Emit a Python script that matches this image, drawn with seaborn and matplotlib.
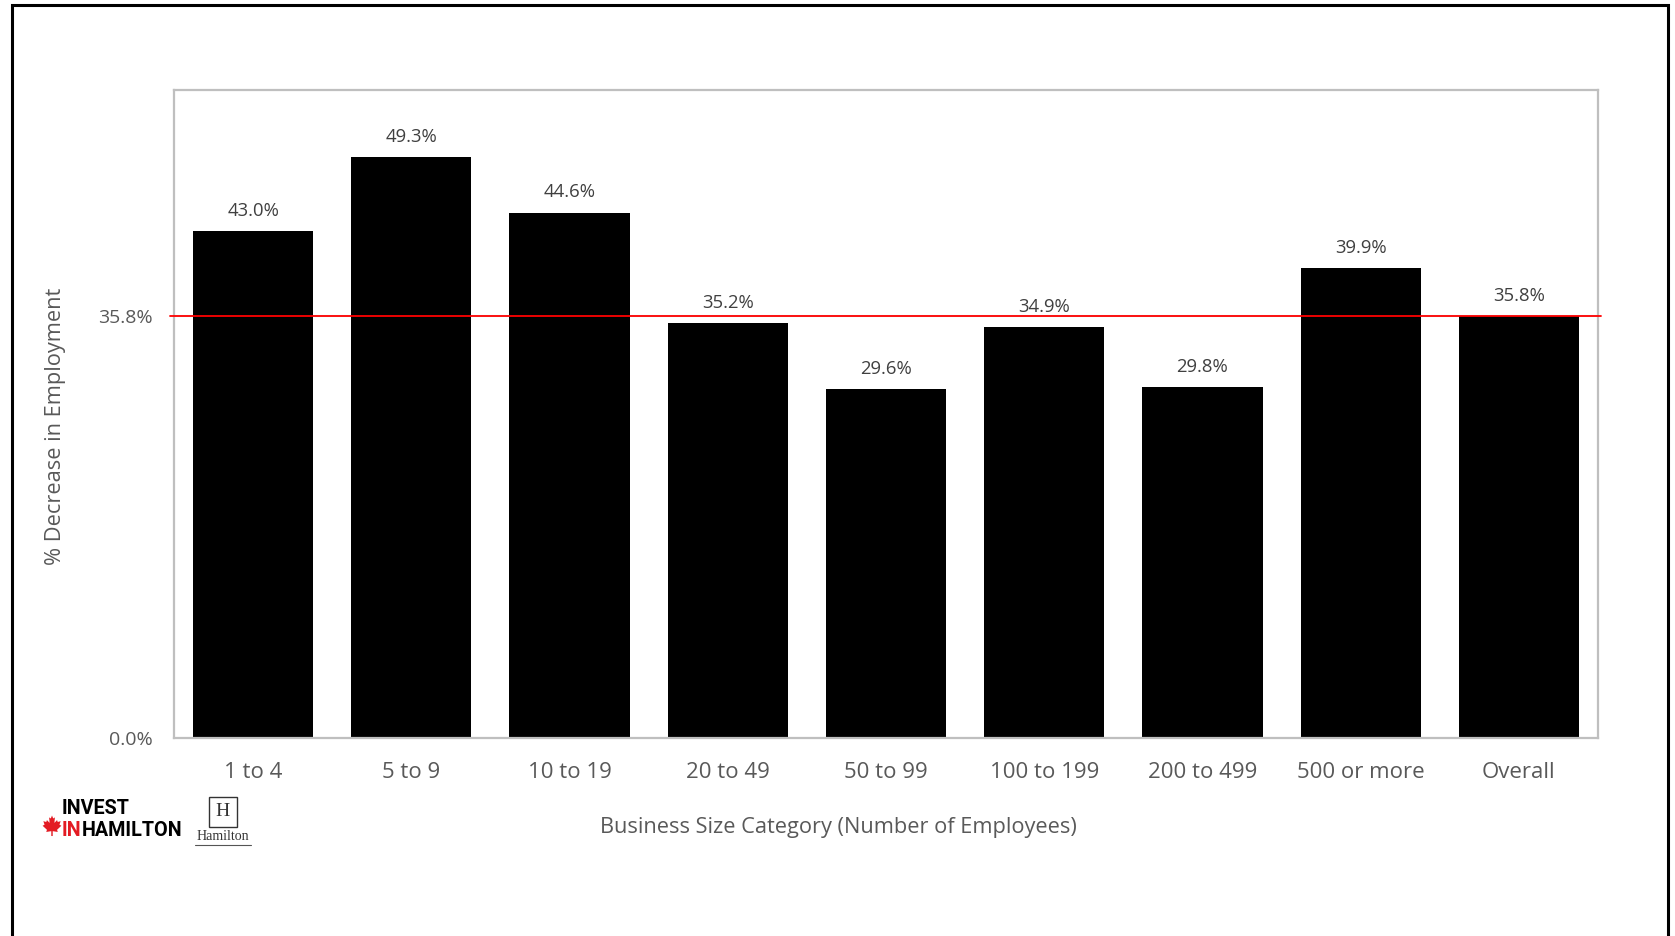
import matplotlib
matplotlib.use("Agg")
import matplotlib.pyplot as plt
import matplotlib.patches as mpatches
import matplotlib.font_manager as fm
import seaborn as sns
import pandas as pd

categories = ["1 to 4", "5 to 9", "10 to 19", "20 to 49", "50 to 99",
              "100 to 199", "200 to 499", "500 or more", "Overall"]
values = [43.0, 49.3, 44.6, 35.2, 29.6, 34.9, 29.8, 39.9, 35.8]
overall_line = 35.8
ytick_values = [0.0, 35.8]
ylabel = "% Decrease in Employment"
xlabel = "Business Size Category (Number of Employees)"

sns.set_theme(style="white")
plt.rcParams["font.family"] = ["Open Sans", "DejaVu Sans"]

names = {f.name for f in fm.fontManager.ttflist}
logo_family = ["Liberation Sans Narrow"] if "Liberation Sans Narrow" in names else ["Roboto"]

W, H = 1675, 936
fig = plt.figure(figsize=(W / 100, H / 100), dpi=100)
ax = fig.add_axes([174 / W, 1 - 738 / H, (1598 - 174) / W, (738 - 90) / H])

df = pd.DataFrame({"cat": categories, "val": values})
sns.barplot(data=df, x="cat", y="val", color="black", saturation=1,
            width=0.76, ax=ax, edgecolor="none", linewidth=0)

ax.set_ylim(0, 55.0)
ax.set_xlim(-0.5, len(categories) - 0.5)
ax.set_yticks(ytick_values)
ax.set_yticklabels([f"{v:.1f}%" for v in ytick_values])
ax.tick_params(axis="y", length=0, pad=15, labelsize=14, labelcolor="#595959")
ax.tick_params(axis="x", length=0, pad=17, labelsize=16, labelcolor="#595959")
ax.set_xlabel("")
ax.set_ylabel("")

ax.axhline(overall_line, color="#d9d9d9", lw=1.5, zorder=0)
ax.axhline(overall_line, xmin=-0.003, xmax=1.002, color="#ff0000", lw=1.3,
           zorder=5, clip_on=False)

for sp in ax.spines.values():
    sp.set_visible(True)
    sp.set_color("#bfbfbf")
    sp.set_linewidth(1.6)

for i, v in enumerate(values):
    ax.annotate(f"{v:.1f}%", (i, v), xytext=(0, 8), textcoords="offset points",
                ha="center", va="bottom", fontsize=13.3, color="#404040")

fig.text(55 / W, 1 - 426 / H, ylabel, rotation=90, ha="center", va="center",
         fontsize=15.7, color="#595959")
fig.text(838 / W, 1 - 828 / H, xlabel, ha="center", va="center",
         fontsize=15.7, color="#595959")

# outer frame
frame = mpatches.Rectangle((11.5 / W, -0.05), (1668 - 11.5) / W, 1.05 - 5.5 / H,
                           transform=fig.transFigure, fill=False,
                           edgecolor="black", lw=2.2, clip_on=False)
fig.add_artist(frame)

# Invest in Hamilton logo
logo_fs = 14.2
fig.text(62 / W, 1 - 809 / H, "INVEST", ha="left", va="center",
         fontsize=logo_fs, fontweight="bold", color="black", family=logo_family)
t_in = fig.text(62 / W, 1 - 831 / H, "IN", ha="left", va="center",
                fontsize=logo_fs, fontweight="bold", color="#e31b23",
                family=logo_family)
renderer = fig.canvas.get_renderer()
bb = t_in.get_window_extent(renderer=renderer)
fig.text(bb.x1 / W + 0.5 / W, 1 - 831 / H, "HAMILTON", ha="left", va="center",
         fontsize=logo_fs, fontweight="bold", color="black", family=logo_family)

half = [(0, 1.0), (0.1, 0.78), (0.24, 0.86), (0.2, 0.45), (0.42, 0.66),
        (0.48, 0.52), (0.72, 0.58), (0.62, 0.32), (0.78, 0.24), (0.42, -0.06),
        (0.48, -0.22), (0.06, -0.16), (0.06, -0.52)]
pts = half + [(-x, y) for x, y in reversed(half)]
cx, cy, sx, sy = 52, 829, 12.0, 13.5
verts = [((cx + x * sx) / W, 1 - (cy - y * sy) / H) for x, y in pts]
leaf = mpatches.Polygon(verts, closed=True, transform=fig.transFigure,
                        facecolor="#e31b23", edgecolor="none")
fig.add_artist(leaf)

# City of Hamilton logo
box = mpatches.Rectangle((209 / W, 1 - 827 / H), 28 / W, 30 / H,
                         transform=fig.transFigure, fill=False,
                         edgecolor="#333333", lw=1.0)
fig.add_artist(box)
fig.text(223 / W, 1 - 812 / H, "H", ha="center", va="center", fontsize=14,
         family=["Liberation Serif"], color="#333333")
fig.text(223 / W, 1 - 837 / H, "Hamilton", ha="center", va="center",
         fontsize=10, family=["Liberation Serif"], color="#333333")
fig.add_artist(plt.Line2D([195 / W, 251 / W], [1 - 845 / H, 1 - 845 / H],
                          transform=fig.transFigure, color="#555555", lw=0.8))

fig.savefig("out.png", dpi=100, facecolor="white")
